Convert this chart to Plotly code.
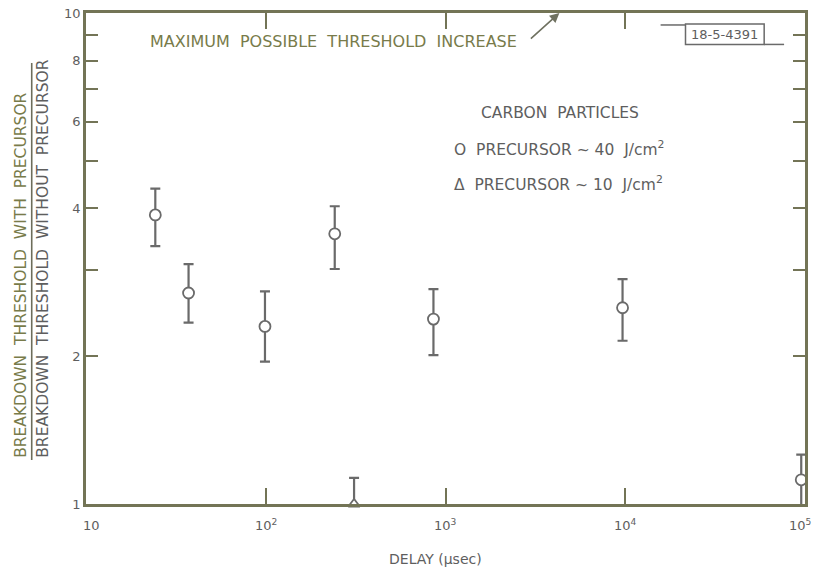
import plotly.graph_objects as go
import math

# ---------------- data ----------------
delay_40 = [24.3, 37.2, 99, 242, 857, 9660, 95300]          # µsec
ratio_40 = [3.88, 2.69, 2.30, 3.55, 2.38, 2.51, 1.12]
ratio_40_hi = [4.39, 3.08, 2.71, 4.04, 2.74, 2.87, 1.26]
ratio_40_lo = [3.35, 2.34, 1.95, 3.01, 2.01, 2.15, 0.977]

delay_10 = [310]
ratio_10 = [1.0]
ratio_10_hi = [1.13]
ratio_10_lo = [0.888]

x_tick_vals = [10, 100, 1000, 10000, 100000]
x_tick_text = ["10", "10<sup>2</sup>", "10<sup>3</sup>", "10<sup>4</sup>", "10<sup>5</sup>"]
x_label_shift = [5, 0, 0, 0, -5]
y_tick_vals = [1, 2, 3, 4, 5, 6, 7, 8, 9, 10]
y_tick_text = ["1", "2", "", "4", "", "6", "", "8", "", "10"]

max_increase_delay = 4300   # arrow points to ratio 10 at this delay

# ---------------- styling ----------------
W, H = 814, 575
ML, MR, MT, MB = 86, 6, 12, 71
PW, PH = W - ML - MR, H - MT - MB
FONT = "DejaVu Sans"
GRAY = "#5e5e5e"
MARK = "#6a6a6a"
OLIVE = "#787b4a"
AXIS = "#737456"
SP = "\u00a0\u00a0"


def px(xp):
    return (xp - ML) / PW


def py(yp):
    return (MT + PH - yp) / PH


fig = go.Figure()

fig.add_trace(go.Scatter(
    x=delay_40, y=ratio_40, mode="markers", cliponaxis=False,
    name="PRECURSOR ~ 40 J/cm²",
    marker=dict(symbol="circle", size=11, color="white",
                line=dict(color=MARK, width=1.8)),
    error_y=dict(type="data", symmetric=False,
                 array=[h - v for h, v in zip(ratio_40_hi, ratio_40)],
                 arrayminus=[v - l for v, l in zip(ratio_40, ratio_40_lo)],
                 color=MARK, thickness=2.2, width=5),
    showlegend=False,
))

fig.add_trace(go.Scatter(
    x=delay_10, y=ratio_10, mode="markers", cliponaxis=False,
    name="PRECURSOR ~ 10 J/cm²",
    marker=dict(symbol="triangle-up", size=10, color="white",
                line=dict(color=MARK, width=1.8)),
    error_y=dict(type="data", symmetric=False,
                 array=[h - v for h, v in zip(ratio_10_hi, ratio_10)],
                 arrayminus=[v - l for v, l in zip(ratio_10, ratio_10_lo)],
                 color=MARK, thickness=2.2, width=5),
    showlegend=False,
))


def note(xp, yp, text, size, color=GRAY, xanchor="center", yanchor="middle", **kw):
    return dict(x=px(xp), y=py(yp), xref="paper", yref="paper", text=text,
                showarrow=False, xanchor=xanchor, yanchor=yanchor,
                font=dict(family=FONT, size=size, color=color), **kw)


annotations = []
# x tick labels
for v, t, s in zip(x_tick_vals, x_tick_text, x_label_shift):
    annotations.append(dict(x=math.log10(v), xref="x", y=0, yref="paper",
                            text=t, showarrow=False, xanchor="center",
                            yanchor="middle", yshift=-21, xshift=s,
                            font=dict(family=FONT, size=13, color=GRAY)))

# x title
annotations.append(note(437, 559, "DELAY (µsec)", 14))

# y title (fraction)
annotations.append(note(20, 460, SP.join(["BREAKDOWN", "THRESHOLD", "WITH", "PRECURSOR"]),
                        15.5, OLIVE, yanchor="bottom", textangle=-90))
annotations.append(note(42.5, 460, SP.join(["BREAKDOWN", "THRESHOLD", "WITHOUT", "PRECURSOR"]),
                        15.5, GRAY, yanchor="bottom", textangle=-90))

# maximum increase note + arrow
annotations.append(note(148, 41, SP.join(["MAXIMUM", "POSSIBLE", "THRESHOLD", "INCREASE"]),
                        16, OLIVE, xanchor="left"))
annotations.append(dict(x=math.log10(max_increase_delay), y=1, xref="x", yref="y",
                        text="", showarrow=True, ax=-30, ay=27,
                        arrowhead=2, arrowsize=1.2, arrowwidth=1.6,
                        arrowcolor="#6f7160"))

# legend text
annotations.append(note(481, 112, "CARBON" + SP + "PARTICLES", 15.5, xanchor="left"))
annotations.append(note(454, 148, "O" + SP + "PRECURSOR ~ 40" + SP + "J/cm<sup>2</sup>",
                        15.5, xanchor="left"))
annotations.append(note(454, 183, "Δ" + SP + "PRECURSOR ~ 10" + SP + "J/cm<sup>2</sup>",
                        15.5, xanchor="left"))

# figure id
annotations.append(note(727.5, 33.5, "18-5-4391", 13))

shapes = [
    # fraction bar of y title
    dict(type="line", xref="paper", yref="paper", x0=px(31.5), x1=px(31.5),
         y0=py(62), y1=py(460), line=dict(color="#6d6d5a", width=1.6)),
    # figure-id box and lines
    dict(type="rect", xref="paper", yref="paper", x0=px(688), x1=px(767),
         y0=py(43.5), y1=py(23), line=dict(color="#6a6a6a", width=1.5)),
    dict(type="line", xref="paper", yref="paper", x0=px(663), x1=px(688),
         y0=py(24), y1=py(24), line=dict(color="#6a6a6a", width=1.5)),
    dict(type="line", xref="paper", yref="paper", x0=px(767), x1=px(787),
         y0=py(43.5), y1=py(43.5), line=dict(color="#6a6a6a", width=1.5)),
]

fig.update_layout(
    width=W, height=H,
    margin=dict(l=ML, r=MR, t=MT, b=MB, pad=0),
    paper_bgcolor="white", plot_bgcolor="white",
    showlegend=False,
    annotations=annotations, shapes=shapes,
    xaxis=dict(type="log", range=[1, 5], showgrid=False, zeroline=False,
               showline=True, linecolor=AXIS, linewidth=2.5, mirror="ticks",
               ticks="inside", ticklen=16, tickwidth=1.6, tickcolor=AXIS,
               tickvals=x_tick_vals[1:-1], showticklabels=False),
    yaxis=dict(type="log", range=[0, 1], showgrid=False, zeroline=False,
               showline=True, linecolor=AXIS, linewidth=2.5, mirror="ticks",
               ticks="inside", ticklen=12, tickwidth=1.6, tickcolor=AXIS,
               tickvals=y_tick_vals, ticktext=y_tick_text,
               tickfont=dict(family=FONT, size=13, color=GRAY)),
)

fig.write_html("out.html")
